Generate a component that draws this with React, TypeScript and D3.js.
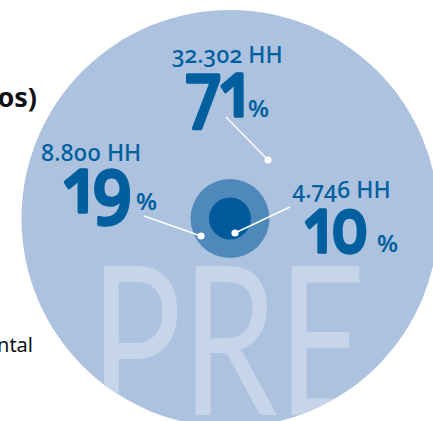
import React, { useEffect, useRef } from "react";
import * as d3 from "d3";

// ---- data ----
const groups = ["Grupo A", "Grupo B", "Grupo C"];
const households = [32302, 8800, 4746];
const shares = [71, 19, 10];
const watermark = "PRE";
const sideTexts = ["Hogares (en número de beneficiarios)", "Gobierno Departamental"];

// ---- layout ----
const W = 433;
const H = 421;
const center = { x: 230, y: 218.5 };
const ringRadii = [208.5, 39.5, 21];
const ringColors = ["#adc2de", "#4f88bb", "#005a9b"];
const ink = "#00609f";

const labelLayout = [
  { hhX: 172, hhY: 63, numX: 186, numY: 116, numW: 62, pctX: 248, pctY: 117, line: [226, 117, 268, 160] },
  { hhX: 41, hhY: 161, numX: 64, numY: 212, numW: 68, pctX: 136, pctY: 210, line: [144, 216, 201, 236] },
  { hhX: 292, hhY: 198, numX: 305, numY: 252, numW: 63, pctX: 377, pctY: 252, line: [290, 207, 235, 233] },
];

const locale = d3.formatLocale({ decimal: ",", thousands: ".", grouping: [3], currency: ["", ""] });
const fmt = locale.format(",d");

export default function App() {
  const ref = useRef<SVGSVGElement>(null);
  const font = "'Noto Sans', 'Open Sans', sans-serif";
  const onum: React.CSSProperties = { fontVariantNumeric: "oldstyle-nums proportional-nums" };

  useEffect(() => {
    if (!ref.current) return;
    d3.select(ref.current)
      .selectAll<SVGTextElement, unknown>("text.bignum")
      .each(function () {
        const i = +(this.getAttribute("data-i") || 0);
        const L = labelLayout[i];
        const w = this.getComputedTextLength();
        const sx = w > 0 ? Math.min(1, L.numW / w) : 1;
        d3.select(this).attr("transform", `translate(${L.numX},${L.numY}) scale(${sx},1)`);
      });
  }, []);

  return (
    <svg
      ref={ref}
      width={W}
      height={H}
      viewBox={`0 0 ${W} ${H}`}
      style={{ position: "absolute", left: 0, top: 0, background: "#fff" }}
    >
      <defs>
        <clipPath id="bigc">
          <circle cx={center.x} cy={center.y} r={ringRadii[0]} />
        </clipPath>
      </defs>
      <circle cx={center.x} cy={center.y} r={ringRadii[0]} fill={ringColors[0]} />
      <text
        clipPath="url(#bigc)"
        x={90}
        y={415}
        fill="#c6d5e9"
        fontFamily="Lato, 'Open Sans', sans-serif"
        fontWeight={400}
        fontSize={208}
        textLength={276}
        lengthAdjust="spacingAndGlyphs"
      >
        {watermark}
      </text>
      <circle cx={center.x} cy={center.y} r={ringRadii[1]} fill={ringColors[1]} />
      <circle cx={center.x} cy={center.y} r={ringRadii[2]} fill={ringColors[2]} />

      <text x={37} y={107} textAnchor="end" fontFamily={font} fontWeight={700} fontSize={27} fill="#111">
        {sideTexts[0]}
      </text>
      <text x={33} y={352} textAnchor="end" fontFamily={font} fontWeight={400} fontSize={20} fill="#111">
        {sideTexts[1]}
      </text>

      {groups.map((g, i) => {
        const L = labelLayout[i];
        const [x1, y1, x2, y2] = L.line;
        return (
          <g key={g}>
            <line x1={x1} y1={y1} x2={x2} y2={y2} stroke="#fff" strokeWidth={1.4} />
            <circle cx={x2} cy={y2} r={3.6} fill="#fff" />
            <text x={L.hhX} y={L.hhY} fontFamily={font} fontWeight={500} fontSize={23} fill={ink} style={onum}>
              {fmt(households[i])} HH
            </text>
            <text
              className="bignum"
              data-i={i}
              transform={`translate(${L.numX},${L.numY})`}
              fontFamily={font}
              fontWeight={500}
              fontSize={76}
              fill={ink}
              stroke={ink}
              strokeWidth={3.5}
              strokeLinejoin="round"
              style={onum}
            >
              {shares[i]}
            </text>
            <text x={L.pctX} y={L.pctY} fontFamily={font} fontWeight={600} fontSize={24} fill={ink}>
              %
            </text>
          </g>
        );
      })}
    </svg>
  );
}
